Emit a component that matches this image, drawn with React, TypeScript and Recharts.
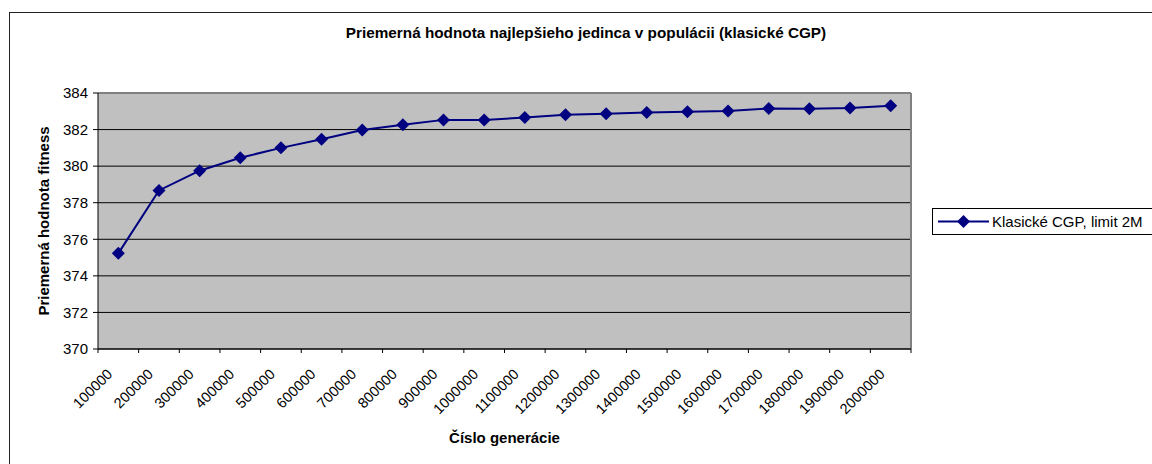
import React from "react";
import {
  LineChart, Line, XAxis, YAxis, CartesianGrid, ReferenceLine,
} from "recharts";

const generations = [
  "100000", "200000", "300000", "400000", "500000",
  "600000", "700000", "800000", "900000", "1000000",
  "1100000", "1200000", "1300000", "1400000", "1500000",
  "1600000", "1700000", "1800000", "1900000", "2000000",
];

const bestFitness = [
  375.23, 378.67, 379.75, 380.46, 381.0,
  381.47, 381.98, 382.26, 382.53, 382.52,
  382.66, 382.81, 382.86, 382.93, 382.97,
  383.01, 383.15, 383.14, 383.18, 383.3,
];

const fitnessTicks = [370, 372, 374, 376, 378, 380, 382, 384];
const seriesName = "Klasické CGP, limit 2M";

const W = 1152;
const H = 464;
const MARGIN = { top: 93, right: 241, bottom: 45, left: 38 };
const Y_AXIS_W = 60;
const X_AXIS_H = 70;
const PLOT_W = W - MARGIN.left - Y_AXIS_W - MARGIN.right;
const FONT = '"Liberation Sans", Arial, sans-serif';
const NAVY = "#000080";

// category slots: each generation sits in the middle of its own band
const data = generations.map((g, i) => ({ gen: g, slot: i + 0.5, fitness: bestFitness[i] }));
const slotTicks = generations.map((_, i) => i).concat(generations.length);

const Diamond = (props: any) => {
  const { cx, cy } = props;
  if (cx == null || cy == null) return null;
  const r = 6.5;
  return (
    <polygon
      points={`${cx},${cy - r} ${cx + r},${cy} ${cx},${cy + r} ${cx - r},${cy}`}
      fill={NAVY}
    />
  );
};

const GenTick = (props: any) => {
  const { x, y, index } = props;
  if (index >= generations.length) return null;
  const cx = x + PLOT_W / generations.length / 2 - 5;
  const cy = y + 20;
  return (
    <text
      x={cx}
      y={cy}
      textAnchor="end"
      transform={`rotate(-45, ${cx}, ${cy})`}
      fontSize={14.5}
      fontFamily={FONT}
      fill="#000"
    >
      {generations[index]}
    </text>
  );
};

const LegendBox = () => (
  <div
    style={{
      position: "absolute",
      left: 932,
      top: 208,
      border: "1px solid #000",
      borderRight: "none",
      background: "#fff",
      width: 230,
      height: 25,
      display: "flex",
      alignItems: "center",
      fontFamily: FONT,
      fontSize: 15,
      color: "#000",
    }}
  >
    <svg width={56} height={25} style={{ flex: "none" }}>
      <line x1={5} y1={12.5} x2={56} y2={12.5} stroke={NAVY} strokeWidth={2} />
      <polygon points="30.5,6 37,12.5 30.5,19 24,12.5" fill={NAVY} />
    </svg>
    <span style={{ marginLeft: 3, whiteSpace: "nowrap" }}>{seriesName}</span>
  </div>
);

export default function App() {
  return (
    <div style={{ position: "absolute", left: 0, top: 0, width: W, height: H, overflow: "hidden", background: "#fff" }}>
      <div
        style={{
          position: "absolute", left: 9, top: 12, width: W + 20, height: H + 20,
          border: "1px solid #222", boxSizing: "border-box",
        }}
      />
      <div
        style={{
          position: "absolute", left: 0, width: W + 20, top: 24, textAlign: "center",
          fontFamily: FONT, fontWeight: "bold", fontSize: 15.3, color: "#000",
        }}
      >
        Priemerná hodnota najlepšieho jedinca v populácii (klasické CGP)
      </div>
      <div style={{ position: "absolute", left: 0, top: 0 }}>
        <LineChart width={W} height={H} data={data} margin={MARGIN}>
          <CartesianGrid
            vertical={false}
            stroke="#000"
            fill="#C0C0C0"
            fillOpacity={1}
          />
          <XAxis
            dataKey="slot"
            type="number"
            domain={[0, generations.length]}
            ticks={slotTicks}
            interval={0}
            height={X_AXIS_H}
            tickSize={4}
            tickLine={{ stroke: "#000" }}
            axisLine={{ stroke: "#000", strokeWidth: 1 }}
            tick={<GenTick />}
            label={{
              value: "Číslo generácie",
              position: "insideBottom",
              offset: -24,
              style: { fontFamily: FONT, fontWeight: "bold", fontSize: 15, fill: "#000" },
            }}
          />
          <YAxis
            domain={[370, 384]}
            ticks={fitnessTicks}
            interval={0}
            width={Y_AXIS_W}
            tickSize={5}
            tickMargin={5}
            tickLine={{ stroke: "#000" }}
            axisLine={{ stroke: "#000", strokeWidth: 1 }}
            tick={{ fontFamily: FONT, fontSize: 15, fill: "#000" }}
            label={{
              value: "Priemerná hodnota fitness",
              angle: -90,
              position: "insideLeft",
              offset: 6,
              style: { fontFamily: FONT, fontWeight: "bold", fontSize: 15, fill: "#000", textAnchor: "middle" },
            }}
          />
          <ReferenceLine y={384} stroke="#808080" strokeWidth={2} />
          <ReferenceLine x={generations.length} stroke="#808080" strokeWidth={2} />
          <Line
            dataKey="fitness"
            name={seriesName}
            stroke={NAVY}
            strokeWidth={2}
            dot={<Diamond />}
            activeDot={false}
            isAnimationActive={false}
          />
        </LineChart>
      </div>
      <LegendBox />
    </div>
  );
}
